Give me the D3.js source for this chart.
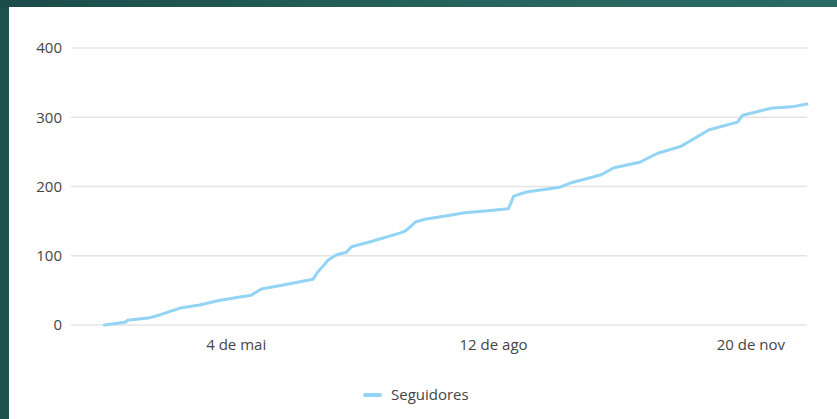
<!DOCTYPE html>
<html>
<head>
<meta charset="utf-8">
<script src="https://cdn.jsdelivr.net/npm/d3@7"></script>
<style>
  html, body { margin: 0; padding: 0; }
  body { width: 837px; height: 419px; background: #1d4f4c; overflow: hidden; position: relative; }
  #frame { position: absolute; left: 0; top: 0; width: 837px; height: 7px;
           background: linear-gradient(90deg, #1b4b4a, #28655e 60%, #2a6a62); }
  #card { position: absolute; left: 9px; top: 7px; width: 828px; height: 412px; background: #fff; }
  svg { position: absolute; left: 0; top: 0; }
</style>
</head>
<body>
<div id="frame"></div>
<div id="card"></div>
<svg id="svg" width="837" height="419"></svg>
<script>
// seguidores acumulados por data
const dates = [
  "2020-03-14", "2020-03-22", "2020-03-23", "2020-03-31", "2020-04-04", "2020-04-08",
  "2020-04-13", "2020-04-20", "2020-04-27", "2020-05-05", "2020-05-10", "2020-05-14",
  "2020-05-23", "2020-06-03", "2020-06-05", "2020-06-09", "2020-06-12", "2020-06-16",
  "2020-06-18", "2020-06-26", "2020-07-07", "2020-07-09", "2020-07-13", "2020-07-17",
  "2020-07-22", "2020-08-01", "2020-08-10", "2020-08-18", "2020-08-20", "2020-08-25",
  "2020-09-07", "2020-09-11", "2020-09-18", "2020-09-23", "2020-09-28", "2020-10-08",
  "2020-10-15", "2020-10-24", "2020-11-04", "2020-11-15", "2020-11-17", "2020-11-28",
  "2020-12-06", "2020-12-12"
];
const seguidores = [
  0, 4, 7, 10, 14, 19,
  25, 29, 35, 40, 43, 52,
  58, 66, 77, 94, 101, 105,
  113, 121, 133, 136, 149, 153,
  156, 162, 165, 168, 186, 192,
  199, 205, 212, 217, 227, 235,
  248, 258, 282, 293, 303, 313,
  315, 319
];
const yTicks = [0, 100, 200, 300, 400];
const xTicks = ["2020-05-04", "2020-08-12", "2020-11-20"];
const xDomain = ["2020-03-01", "2020-12-12"];
const meses = ["jan", "fev", "mar", "abr", "mai", "jun", "jul", "ago", "set", "out", "nov", "dez"];
const serieNome = "Seguidores";

const parse = d3.timeParse("%Y-%m-%d");
const data = dates.map((d, i) => ({ date: parse(d), value: seguidores[i] }));

const svg = d3.select("#svg");
const margin = { top: 48, right: 30, bottom: 94, left: 71 };
const width = +svg.attr("width");
const height = +svg.attr("height");
const lineColor = "#93d4f5";
const fontFam = "'Open Sans', 'Noto Sans', sans-serif";

const x = d3.scaleTime()
  .domain(xDomain.map(parse))
  .range([margin.left, width - margin.right]);

const y = d3.scaleLinear()
  .domain([0, 400])
  .range([height - margin.bottom, margin.top]);

// grade
svg.append("g")
  .selectAll("line")
  .data(yTicks)
  .join("line")
  .attr("x1", margin.left)
  .attr("x2", width - margin.right)
  .attr("y1", d => y(d))
  .attr("y2", d => y(d))
  .attr("stroke", "#e4e4e4")
  .attr("stroke-width", 1.5);

// eixo y
const yAxis = g => g
  .attr("transform", `translate(${margin.left - 9},0)`)
  .call(d3.axisLeft(y).tickValues(yTicks).tickSize(0).tickPadding(0))
  .call(g => g.select(".domain").remove());

svg.append("g").call(yAxis)
  .selectAll("text")
  .attr("font-family", fontFam)
  .attr("font-size", 15)
  .attr("fill", "#454545");

// eixo x
const xAxis = g => g
  .attr("transform", `translate(0,${height - margin.bottom})`)
  .call(d3.axisBottom(x)
    .tickValues(xTicks.map(parse))
    .tickSize(0)
    .tickPadding(14)
    .tickFormat(d => d.getDate() + " de " + meses[d.getMonth()]))
  .call(g => g.select(".domain").remove());

svg.append("g").call(xAxis)
  .selectAll("text")
  .attr("font-family", fontFam)
  .attr("font-size", 15)
  .attr("fill", "#454545");

const line = d3.line()
  .x(d => x(d.date))
  .y(d => y(d.value));

svg.append("path")
  .datum(data)
  .attr("fill", "none")
  .attr("stroke", lineColor)
  .attr("stroke-width", 3)
  .attr("stroke-linejoin", "round")
  .attr("stroke-linecap", "round")
  .attr("d", line);

// legenda
const legend = svg.append("g").attr("transform", "translate(365,395)");
legend.append("line")
  .attr("x1", 0).attr("x2", 15)
  .attr("stroke", lineColor)
  .attr("stroke-width", 4)
  .attr("stroke-linecap", "round");
legend.append("text")
  .attr("x", 26)
  .attr("dy", "0.35em")
  .attr("font-family", fontFam)
  .attr("font-size", 15)
  .attr("fill", "#454545")
  .text(serieNome);
</script>
</body>
</html>
